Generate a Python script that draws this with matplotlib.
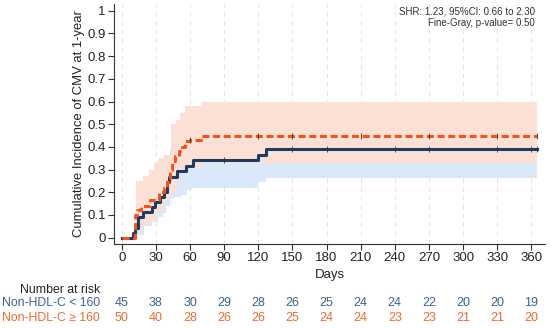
import numpy as np
import matplotlib
matplotlib.use('Agg')
import matplotlib.pyplot as plt
import matplotlib.transforms as mtransforms

plt.rcParams['font.family'] = ['Liberation Sans', 'DejaVu Sans']

# cumulative incidence, group Non-HDL-C < 160 (blue)
blue_t = [0, 10.2, 12, 14.6, 19, 26.3, 29.2, 33.6, 37.1, 39.5, 41.8, 48.8, 56.4, 62.9, 119.9, 127.2, 365]
blue_y = [0, 0.022, 0.044, 0.089, 0.111, 0.133, 0.156, 0.178, 0.2, 0.244, 0.267, 0.295, 0.318, 0.341, 0.365, 0.39, 0.39]
blue_ci_t = [12, 20, 27, 32, 36, 39, 42.5, 46, 52, 57, 62, 120, 127, 365]
blue_lo = [0.01, 0.05, 0.07, 0.09, 0.11, 0.14, 0.17, 0.18, 0.19, 0.21, 0.22, 0.245, 0.265, 0.265]
blue_hi = [0.12, 0.2, 0.22, 0.25, 0.28, 0.33, 0.39, 0.42, 0.45, 0.47, 0.5, 0.52, 0.55, 0.55]

# group Non-HDL-C >= 160 (orange)
org_t = [0, 11.5, 13, 17, 25, 33, 37, 40, 42.5, 44, 47, 50, 53, 55.5, 60, 70, 365]
org_y = [0, 0.10, 0.12, 0.14, 0.165, 0.2, 0.22, 0.245, 0.3, 0.34, 0.36, 0.38, 0.40, 0.425, 0.43, 0.45, 0.45]
org_ci_t = [12.5, 19, 24, 28, 32, 37, 43.5, 48, 51, 55.5, 70, 365]
org_lo = [0.04, 0.05, 0.07, 0.09, 0.12, 0.16, 0.2, 0.24, 0.28, 0.31, 0.33, 0.33]
org_hi = [0.25, 0.27, 0.30, 0.33, 0.35, 0.365, 0.5, 0.52, 0.55, 0.58, 0.60, 0.60]

# censoring marks
blue_cens = [90, 150, 180, 240, 270, 330, 360, 365]
blue_cens_y = [0.341, 0.39, 0.39, 0.39, 0.39, 0.39, 0.39, 0.39]
org_cens = [60, 120, 150, 210, 270, 330, 365]
org_cens_y = [0.43, 0.45, 0.45, 0.45, 0.45, 0.45, 0.45]

days = list(range(0, 361, 30))
risk_blue = [45, 38, 30, 29, 28, 26, 25, 24, 24, 22, 20, 20, 19]
risk_org = [50, 40, 28, 26, 26, 25, 24, 24, 23, 23, 21, 21, 20]

c_blue = '#1c3d63'
c_org = '#f2541b'
c_blue_fill = '#dbe8fa'
c_org_fill = '#fde0d5'
c_blue_txt = '#3c628e'
c_org_txt = '#ec6a2f'

fig = plt.figure(figsize=(5.5, 3.28), dpi=100)
ax = fig.add_axes([114/550, 84/328, (545-114)/550, 240/328])

ax.fill_between(blue_ci_t, blue_lo, blue_hi, step='post', color=c_blue_fill, lw=0, zorder=1)
ax.fill_between(org_ci_t, org_lo, org_hi, step='post', color=c_org_fill, lw=0, zorder=2)

for d in days:
    ax.axvline(d, color='#e4e4e4', lw=0.7, ls=(0, (5, 4)), zorder=0)

ax.step(blue_t, blue_y, where='post', color=c_blue, lw=2.2, zorder=4)
ax.step(org_t, org_y, where='post', color=c_org, lw=2.2, ls=(0, (2.3, 1.2)), zorder=5)

ax.plot(blue_cens, blue_cens_y, ls='none', marker='|', ms=4, mew=0.6, color='#333333', zorder=6)
ax.plot(org_cens, org_cens_y, ls='none', marker='|', ms=4, mew=0.6, color='#333333', zorder=6)

ax.set_xlim(-6.8, 372)
ax.set_ylim(-0.028, 1.03)
ax.set_xticks(days)
ax.set_yticks(np.arange(0, 1.01, 0.1))
ax.set_yticklabels(['0', '0.1', '0.2', '0.3', '0.4', '0.5', '0.6', '0.7', '0.8', '0.9', '1'])
ax.tick_params(labelsize=9.5, length=4, width=0.8, color='#333333', labelcolor='#222222', pad=2)
for s in ['top', 'right']:
    ax.spines[s].set_visible(False)
for s in ['left', 'bottom']:
    ax.spines[s].set_color('#333333')
    ax.spines[s].set_linewidth(0.8)

fig.text(79/550, 1 - 124/328, 'Cumulative Incidence of CMV at 1-year', rotation=90,
         ha='center', va='center', fontsize=9.4, color='#222222')
fig.text(330/550, 1 - 275/328, 'Days', ha='center', va='center', fontsize=9.5, color='#222222')

fig.text(535/550, 1 - 12/328, 'SHR: 1.23, 95%CI: 0.66 to 2.30', ha='right', va='center',
         fontsize=7, color='#333333')
fig.text(535/550, 1 - 23/328, 'Fine-Gray, p-value= 0.50', ha='right', va='center',
         fontsize=7, color='#333333')

# number at risk table
trans = mtransforms.blended_transform_factory(ax.transData, fig.transFigure)
fig.text(100/550, 1 - 290/328, 'Number at risk', ha='right', va='center', fontsize=8.8, color='#222222')
fig.text(100/550, 1 - 303/328, 'Non-HDL-C < 160', ha='right', va='center', fontsize=8.8, color=c_blue_txt)
fig.text(100/550, 1 - 318/328, 'Non-HDL-C \u2265 160', ha='right', va='center', fontsize=8.8, color=c_org_txt)
for d, nb, no in zip(days, risk_blue, risk_org):
    ax.text(d, 1 - 303/328, str(nb), transform=trans, ha='center', va='center', fontsize=9, color=c_blue_txt)
    ax.text(d, 1 - 318/328, str(no), transform=trans, ha='center', va='center', fontsize=9, color=c_org_txt)

fig.savefig('out.png', dpi=100)
